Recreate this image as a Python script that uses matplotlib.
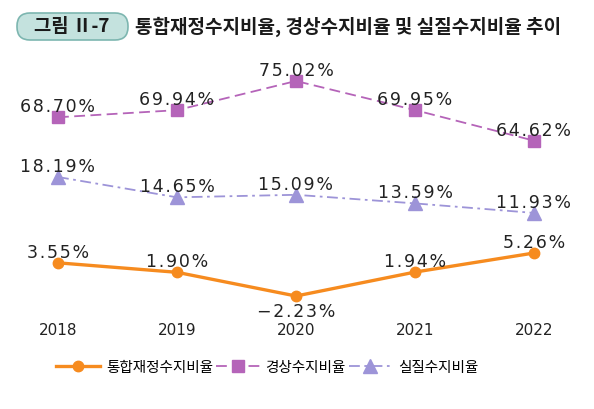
import matplotlib
matplotlib.use("Agg")
import matplotlib.pyplot as plt
from matplotlib.patches import FancyBboxPatch
from matplotlib.transforms import IdentityTransform

plt.rcParams['font.family'] = ['Noto Sans CJK KR', 'DejaVu Sans']

years = ['2018', '2019', '2020', '2021', '2022']
fiscal = [3.55, 1.90, -2.23, 1.94, 5.26]        # 통합재정수지비율
current = [68.70, 69.94, 75.02, 69.95, 64.62]   # 경상수지비율
real = [18.19, 14.65, 15.09, 13.59, 11.93]      # 실질수지비율
names = ['통합재정수지비율', '경상수지비율', '실질수지비율']

c_orange = '#F68B1F'
c_purple = '#B564B9'
c_lav = '#9D94D8'

W, H = 594, 410
fig = plt.figure(figsize=(W / 100, H / 100), dpi=100)
x = list(range(len(years)))
xlim = (-58 / 119, 4 + 60 / 119)


def band(top, bottom, ylim):
    ax = fig.add_axes([0, 1 - bottom / H, 1, (bottom - top) / H])
    ax.set_xlim(*xlim)
    ax.set_ylim(*ylim)
    ax.axis('off')
    return ax


def spaced(s):
    # the source font is set with a little letter spacing
    return '\u200a'.join(s)


ax_p = band(70, 150, (63.17, 77.11))
ax_l = band(160, 225, (10.00, 21.33))
ax_o = band(235, 310, (-4.49, 8.57))

lp, = ax_p.plot(x, current, color=c_purple, lw=1.3, ls=(0, (6, 3)),
                marker='s', ms=9, mfc=c_purple, mec=c_purple)
ll, = ax_l.plot(x, real, color=c_lav, lw=1.3, ls=(0, (6, 2.5, 1.5, 2.5)),
                marker='^', ms=9.5, mfc=c_lav, mec=c_lav)
lo, = ax_o.plot(x, fiscal, color=c_orange, lw=2.4,
                marker='o', ms=7.5, mfc=c_orange, mec=c_orange)

for ax, vals in [(ax_p, current), (ax_l, real), (ax_o, fiscal)]:
    for i, v in enumerate(vals):
        dy = 8 if v >= 0 else -11
        txt = spaced(f'{v:.2f}%'.replace('-', '\u2212'))
        ax.annotate(txt, (i, v), xytext=(0, dy), textcoords='offset points',
                    ha='center', va='center', fontsize=12.5, color='#222222',
                    fontfamily='DejaVu Sans')

# year labels
for i, y in enumerate(years):
    ax_o.annotate(y, (i, 0), xycoords=('data', 'axes fraction'),
                  xytext=(0, -14.5), textcoords='offset points',
                  ha='center', va='center', fontsize=11, color='#222222',
                  fontfamily='DejaVu Sans')

fig.legend([lo, lp, ll], names, loc='center', bbox_to_anchor=(0.45, 1 - 368 / H),
           ncol=3, frameon=False, fontsize=10.5, handlelength=3.0,
           handletextpad=0.4, columnspacing=0.2)

# title badge
badge = FancyBboxPatch((17, H - 41), 111, 27,
                       boxstyle='round,pad=0,rounding_size=13',
                       transform=IdentityTransform(), facecolor='#C4E2DE',
                       edgecolor='#7DB6B0', lw=1.2)
fig.patches.append(badge)
fig.text(72 / W, 1 - 27 / H, '그림 Ⅱ-7', ha='center', va='center',
         fontsize=13.5, fontweight='bold', color='#1a1a1a')
fig.text(135 / W, 1 - 27 / H, '통합재정수지비율, 경상수지비율 및 실질수지비율 추이',
         ha='left', va='center', fontsize=13.7, fontweight='bold', color='#1a1a1a')

fig.savefig('out.png', dpi=100)
